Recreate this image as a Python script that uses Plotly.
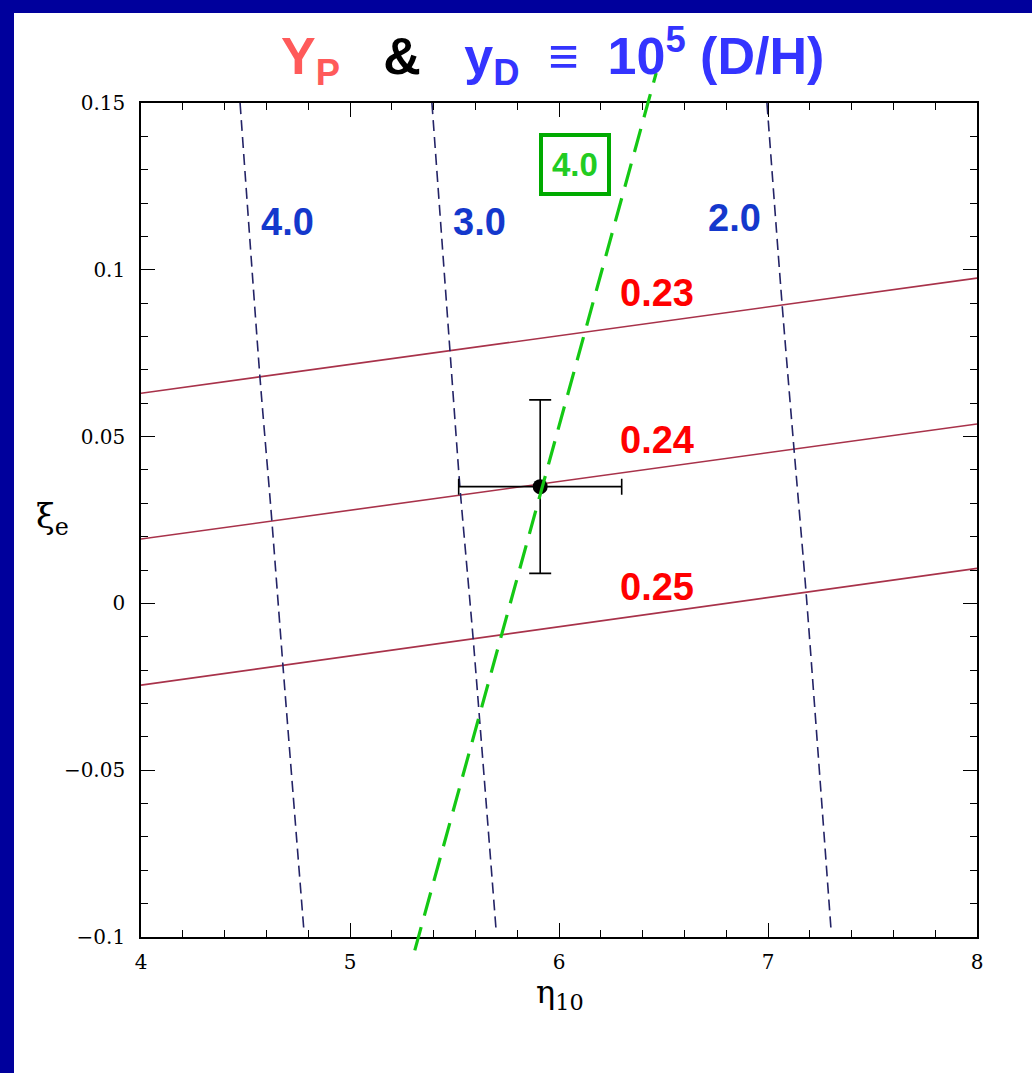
import plotly.graph_objects as go

# ---- data ---------------------------------------------------------------
# Helium mass fraction Y_P contours (straight lines across the eta range)
yp_labels = ["0.23", "0.24", "0.25"]
yp_eta = [4.0, 8.0]
yp_xi = {
    "0.23": [0.063, 0.0975],
    "0.24": [0.0193, 0.0538],
    "0.25": [-0.0245, 0.0105],
}
yp_label_pos = {"0.23": (6.47, 0.093), "0.24": (6.47, 0.049), "0.25": (6.47, 0.0049)}

# Deuterium y_D contours (nearly vertical dashed curves)
yd_labels = ["4.0", "3.0", "2.0"]
yd_eta = {
    "4.0": [4.474, 4.569, 4.622, 4.679, 4.780],
    "3.0": [5.392, 5.478, 5.526, 5.589, 5.699],
    "2.0": [6.995, 7.067, 7.124, 7.182, 7.301],
}
yd_xi = {
    "4.0": [0.150, 0.0679, 0.028, -0.0185, -0.0985],
    "3.0": [0.150, 0.0760, 0.0349, -0.0104, -0.0979],
    "2.0": [0.150, 0.0900, 0.0466, 0.0034, -0.0973],
}
yd_label_pos = {"4.0": (4.70, 0.1143), "3.0": (5.62, 0.1143), "2.0": (6.84, 0.1155)}

# Highlighted y_D = 4.0 line (green), extending past the frame
green_eta = [5.31, 6.465]
green_xi = [-0.104, 0.159]
green_label_pos = (6.075, 0.1315)

# Best-fit point with 1-sigma errors
pt_eta = [5.91]
pt_xi = [0.035]
pt_err_eta = [0.39]
pt_err_xi = [0.026]

x_ticks = [4, 5, 6, 7, 8]
x_ticktext = ["4", "5", "6", "7", "8"]
y_ticks = [-0.1, -0.05, 0, 0.05, 0.1, 0.15]
y_ticktext = ["\u22120.1", "\u22120.05", "0", "0.05", "0.1", "0.15"]

# ---- layout geometry (pixels) -------------------------------------------
W, H = 1032, 1073
L, R, T, B = 141, 977, 103, 937      # plot frame edges
X0, X1 = 4.0, 8.0
Y0, Y1 = -0.1, 0.15


def px(xp):
    return xp / W


def py(yp):
    return 1 - yp / H


# full-figure overlay axis ranges sharing the same scale as the frame
sx = (X1 - X0) / (R - L)
sy = (Y1 - Y0) / (B - T)
x2_range = [X0 - L * sx, X1 + (W - R) * sx]
y2_range = [Y0 - (H - B) * sy, Y1 + T * sy]

fig = go.Figure()

RED = "#a8324a"
NAVY = "#232366"
GREEN = "#14c814"
BLUE_LBL = "#1438cc"

for lab in yp_labels:
    fig.add_trace(go.Scatter(
        x=yp_eta, y=yp_xi[lab], mode="lines",
        line=dict(color=RED, width=1.6), hoverinfo="skip", showlegend=False))

for lab in yd_labels:
    fig.add_trace(go.Scatter(
        x=yd_eta[lab], y=yd_xi[lab], mode="lines",
        line=dict(color=NAVY, width=1.6, dash="11px,6px", shape="spline", smoothing=0.6),
        hoverinfo="skip", showlegend=False))

fig.add_trace(go.Scatter(
    x=pt_eta, y=pt_xi, mode="markers",
    marker=dict(color="black", size=15),
    error_x=dict(type="data", array=pt_err_eta, color="black", thickness=1.6, width=8),
    error_y=dict(type="data", array=pt_err_xi, color="black", thickness=1.6, width=11),
    hoverinfo="skip", showlegend=False))

fig.add_trace(go.Scatter(
    x=green_eta, y=green_xi, mode="lines", xaxis="x2", yaxis="y2",
    line=dict(color=GREEN, width=3.2, dash="24px,12px"),
    hoverinfo="skip", showlegend=False))

LABEL_FONT = "Liberation Sans, Arial"
annotations = []
for lab in yp_labels:
    x, y = yp_label_pos[lab]
    annotations.append(dict(x=x, y=y, xref="x", yref="y", text="<b>" + lab + "</b>",
                            showarrow=False,
                            font=dict(family=LABEL_FONT, size=38, color="#ff0000"),
                            xanchor="center", yanchor="middle"))
for lab in yd_labels:
    x, y = yd_label_pos[lab]
    annotations.append(dict(x=x, y=y, xref="x", yref="y", text="<b>" + lab + "</b>",
                            showarrow=False,
                            font=dict(family=LABEL_FONT, size=38, color=BLUE_LBL),
                            xanchor="center", yanchor="middle"))
annotations.append(dict(x=green_label_pos[0], y=green_label_pos[1], xref="x", yref="y",
                        text="<b>4.0</b>", showarrow=False,
                        font=dict(family=LABEL_FONT, size=33, color="#22cc22"),
                        bordercolor="#00aa00", borderwidth=4, borderpad=9,
                        bgcolor="white", xanchor="center", yanchor="middle"))

# heading
annotations.append(dict(
    x=px(552), y=py(56), xref="paper", yref="paper", showarrow=False,
    xanchor="center", yanchor="middle",
    text=("<b><span style='color:#ff5a5a'>Y<sub>P</sub></span>&nbsp;&nbsp;&nbsp;"
          "<span style='color:#000000'>&amp;</span>&nbsp;&nbsp;&nbsp;"
          "<span style='color:#3434ff'>y<sub>D</sub>&nbsp;&nbsp;\u2261&nbsp;&nbsp;"
          "10<sup>5</sup>&nbsp;(D/H)</span></b>"),
    font=dict(family=LABEL_FONT, size=52)))

# axis titles
annotations.append(dict(x=px(52), y=py(518), xref="paper", yref="paper", showarrow=False,
                        text="\u03be<sub>e</sub>", xanchor="center", yanchor="middle",
                        font=dict(family="DejaVu Serif", size=34, color="black")))
annotations.append(dict(x=px(560), y=py(994), xref="paper", yref="paper", showarrow=False,
                        text="\u03b7<sub>10</sub>", xanchor="center", yanchor="middle",
                        font=dict(family="DejaVu Serif", size=32, color="black")))

axis_common = dict(
    showline=True, linecolor="black", linewidth=1.6, mirror="allticks",
    ticks="inside", ticklen=14, tickwidth=1.4, tickcolor="black",
    showgrid=False, zeroline=False,
    tickfont=dict(family="DejaVu Serif", size=20, color="black"),
)

fig.update_layout(
    width=W, height=H,
    margin=dict(l=0, r=0, t=0, b=0, pad=0, autoexpand=False),
    paper_bgcolor="#00009c",
    plot_bgcolor="rgba(0,0,0,0)",
    xaxis=dict(range=[X0, X1], domain=[L / W, R / W], tickvals=x_ticks, ticktext=x_ticktext,
               minor=dict(tickmode="linear", tick0=4, dtick=0.2, ticks="inside", ticklen=7,
                          tickwidth=1.2, tickcolor="black"),
               ticklabelstandoff=6, **axis_common),
    yaxis=dict(range=[Y0, Y1], domain=[1 - B / H, 1 - T / H], tickvals=y_ticks, ticktext=y_ticktext,
               minor=dict(tickmode="linear", tick0=-0.1, dtick=0.01, ticks="inside", ticklen=7,
                          tickwidth=1.2, tickcolor="black"),
               ticklabelstandoff=10, **axis_common),
    xaxis2=dict(range=x2_range, domain=[0, 1], anchor="y2", visible=False, fixedrange=True),
    yaxis2=dict(range=y2_range, domain=[0, 1], anchor="x2", visible=False, fixedrange=True),
    annotations=annotations,
    shapes=[dict(type="rect", xref="paper", yref="paper", x0=px(14), x1=1.0, y0=0.0, y1=py(13),
                 fillcolor="white", line=dict(width=0), layer="below")],
    showlegend=False,
)

fig.write_html("out.html")
